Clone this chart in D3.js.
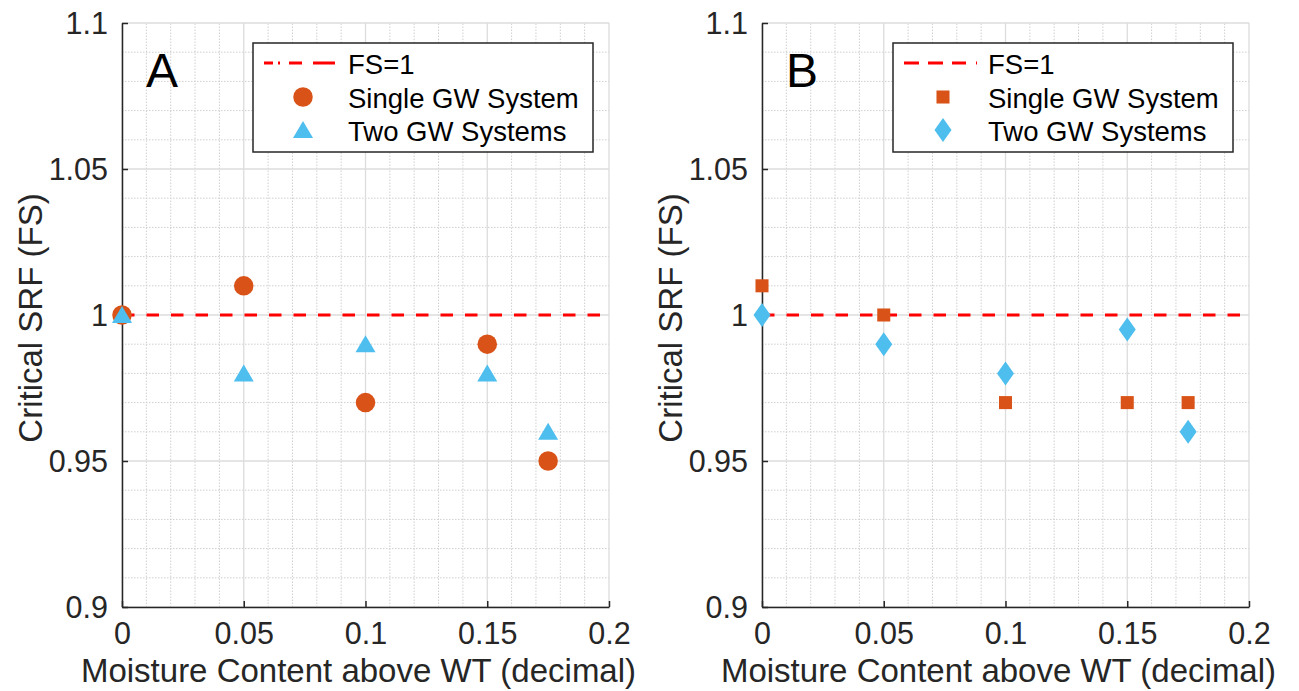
<!DOCTYPE html>
<html>
<head>
<meta charset="utf-8">
<script src="https://cdn.jsdelivr.net/npm/d3@7"></script>
<style>
body { margin: 0; background: #fff; }
text { font-family: "Liberation Sans", Arial, sans-serif; fill: #262626; }
</style>
</head>
<body>
<svg id="main_svg" width="1299" height="691"></svg>
<script>
// moisture content values (x)
var moisture = [0, 0.05, 0.1, 0.15, 0.175];
// panel A
var singleA = [1.0, 1.01, 0.97, 0.99, 0.95];
var twoA = [1.0, 0.98, 0.99, 0.98, 0.96];
// panel B
var singleB = [1.01, 1.0, 0.97, 0.97, 0.97];
var twoB = [1.0, 0.99, 0.98, 0.995, 0.96];

var xTicks = [0, 0.05, 0.1, 0.15, 0.2];
var yTicks = [0.9, 0.95, 1, 1.05, 1.1];
var legendLabels = ['FS=1', 'Single GW System', 'Two GW Systems'];

var orange = '#D95319', blue = '#4DBEEE';
var svg = d3.select('#main_svg');

function panel(opts) {
  var x = d3.scaleLinear().domain([0, 0.2]).range([opts.left, opts.left + 487]);
  var y = d3.scaleLinear().domain([0.9, 1.1]).range([607, 23]);
  var g = svg.append('g');

  // minor grid
  var xMinor = d3.range(0, 21).map(function(i) { return i / 100; }).filter(function(v, i) { return i % 5 != 0; });
  var yMinor = d3.range(90, 111).map(function(i) { return i / 100; }).filter(function(v, i) { return i % 5 != 0; });
  g.selectAll('.xminor').data(xMinor).enter().append('line')
    .attr('x1', function(d) { return x(d); }).attr('x2', function(d) { return x(d); })
    .attr('y1', y(0.9)).attr('y2', y(1.1))
    .style('stroke', '#cfcfcf').style('stroke-width', 1).style('stroke-dasharray', '1.5,1.5');
  g.selectAll('.yminor').data(yMinor).enter().append('line')
    .attr('y1', function(d) { return y(d); }).attr('y2', function(d) { return y(d); })
    .attr('x1', x(0)).attr('x2', x(0.2))
    .style('stroke', '#cfcfcf').style('stroke-width', 1).style('stroke-dasharray', '1.5,1.5');
  // major grid
  g.selectAll('.xmajor').data(xTicks).enter().append('line')
    .attr('x1', function(d) { return x(d); }).attr('x2', function(d) { return x(d); })
    .attr('y1', y(0.9)).attr('y2', y(1.1))
    .style('stroke', '#dcdcdc').style('stroke-width', 1.3);
  g.selectAll('.ymajor').data(yTicks).enter().append('line')
    .attr('y1', function(d) { return y(d); }).attr('y2', function(d) { return y(d); })
    .attr('x1', x(0)).attr('x2', x(0.2))
    .style('stroke', '#dcdcdc').style('stroke-width', 1.3);

  // axes
  var xAxis = d3.axisBottom(x).tickValues(xTicks).tickSizeInner(-6).tickSizeOuter(0)
    .tickPadding(15).tickFormat(function(d) { return d3.format('')(+d.toFixed(3)); });
  var yAxis = d3.axisLeft(y).tickValues(yTicks).tickSizeInner(-6).tickSizeOuter(0)
    .tickPadding(14).tickFormat(function(d) { return d3.format('')(+d.toFixed(3)); });
  var ax = g.append('g').attr('transform', 'translate(0,' + y(0.9) + ')').call(xAxis);
  var ay = g.append('g').attr('transform', 'translate(' + x(0) + ',0)').call(yAxis);
  [ax, ay].forEach(function(a) {
    a.select('.domain').style('stroke', '#262626').style('stroke-width', 1.5);
    a.selectAll('.tick line').style('stroke', '#262626').style('stroke-width', 1.5);
    a.selectAll('.tick text').style('font-size', '30.5px').style('fill', '#262626')
      .style('font-family', '"Liberation Sans", Arial, sans-serif');
  });
  ax.selectAll('.tick text').attr('dy', '0.72em');
  ay.selectAll('.tick text').attr('dy', '0.36em');

  // axis labels
  g.append('text').attr('x', x(0.1) - 7).attr('y', 682).attr('text-anchor', 'middle')
    .style('font-size', '33px').text('Moisture Content above WT (decimal)');
  g.append('text').attr('transform', 'translate(' + (opts.left - 80) + ',' + (y(1) + 3) + ') rotate(-90)')
    .attr('text-anchor', 'middle').style('font-size', '33px').text('Critical SRF (FS)');

  // panel letter
  g.append('text').attr('x', opts.left + 24).attr('y', 87).style('font-size', '48px')
    .style('fill', '#000').text(opts.letter);

  // FS=1 line
  g.append('line').attr('x1', x(0)).attr('x2', x(0.2)).attr('y1', y(1)).attr('y2', y(1))
    .style('stroke', '#ff0000').style('stroke-width', 3).style('stroke-dasharray', '12.5,12');

  // markers
  var singlePts = moisture.map(function(m, i) { return [m, opts.single[i]]; });
  var twoPts = moisture.map(function(m, i) { return [m, opts.two[i]]; });
  var symSingle = opts.letter == 'A' ? d3.symbolCircle : d3.symbolSquare;
  var sizeSingle = opts.letter == 'A' ? 300 : 170;
  g.selectAll('.single').data(singlePts).enter().append('path')
    .attr('d', d3.symbol().type(symSingle).size(sizeSingle))
    .attr('transform', function(d) { return 'translate(' + x(d[0]) + ',' + y(d[1]) + ')'; })
    .style('fill', orange);
  if (opts.letter == 'A') {
    g.selectAll('.two').data(twoPts).enter().append('path')
      .attr('d', 'M0,-9L10,8L-10,8Z')
      .attr('transform', function(d) { return 'translate(' + x(d[0]) + ',' + y(d[1]) + ')'; })
      .style('fill', blue);
  } else {
    g.selectAll('.two').data(twoPts).enter().append('path')
      .attr('d', 'M0,-12L8.5,0L0,12L-8.5,0Z')
      .attr('transform', function(d) { return 'translate(' + x(d[0]) + ',' + y(d[1]) + ')'; })
      .style('fill', blue);
  }

  // legend
  var lx = opts.left + 131, ly = 43;
  var leg = g.append('g').attr('class', 'legend');
  leg.append('rect').attr('x', lx).attr('y', ly).attr('width', 340).attr('height', 109)
    .style('fill', '#fff').style('stroke', '#262626').style('stroke-width', 1.5);
  leg.append('line').attr('x1', lx + 11).attr('x2', lx + 84).attr('y1', ly + 20).attr('y2', ly + 20)
    .style('stroke', '#ff0000').style('stroke-width', 3).style('stroke-dasharray', opts.legDash);
  leg.append('path').attr('d', opts.letter == 'A' ? d3.symbol().type(d3.symbolCircle).size(300)() : d3.symbol().type(d3.symbolSquare).size(170)())
    .attr('transform', 'translate(' + (lx + 50) + ',' + (ly + 54) + ')').style('fill', orange);
  leg.append('path').attr('d', opts.letter == 'A' ? 'M0,-9L10,8L-10,8Z' : 'M0,-12L8.5,0L0,12L-8.5,0Z')
    .attr('transform', 'translate(' + (lx + 50) + ',' + (ly + 87) + ')').style('fill', blue);
  leg.selectAll('.legtext').data(legendLabels).enter().append('text')
    .attr('x', lx + 95).attr('y', function(d, i) { return ly + 31 + i * 33.5; })
    .style('font-size', '27.5px').style('fill', '#000').text(function(d) { return d; });
}

panel({ left: 122, letter: 'A', single: singleA, two: twoA, legDash: '9,5,2,9,13,11,22' });
panel({ left: 762, letter: 'B', single: singleB, two: twoB, legDash: '15,9,15,9,14,10,2' });
</script>
</body>
</html>
